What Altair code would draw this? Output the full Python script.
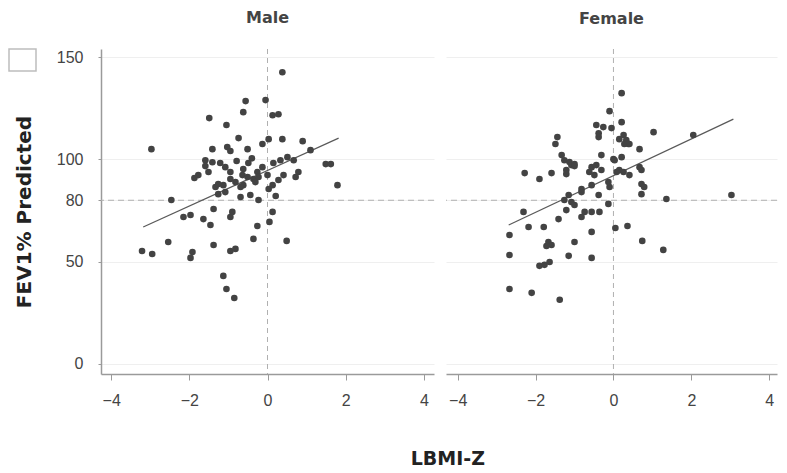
import altair as alt
import pandas as pd

# ---- data ----
male_x = [0.38, -0.56, -0.05, -0.62, 0.13, 0.28, -1.49, -1.05, -2.97, -0.74,
          0.38, 0.03, 0.90, -0.13, -0.51, -1.41, -1.03, -0.95, 1.10, -1.59,
          -1.41, -1.21, -0.79, -0.49, -0.40, 0.15, 0.33, 0.51, 0.67, 1.49,
          1.62, -0.62, -0.26, 0.00, 0.41, 0.79, -0.36, 0.28, -1.51, -1.77,
          -0.95, -0.64, -1.87, -1.13, -0.95, -1.26, -0.69, -2.46, -2.15, -1.97,
          -1.64, -1.46, -1.38, -0.95, -0.90, -2.54, -3.21, -2.95, -1.92, -1.97,
          -1.38, -0.95, -0.82, -1.13, -1.05, -0.85, -0.51, -0.23, 0.72, 1.79,
          -0.62, -0.31, 0.03, 0.13, -0.44, -0.23, 0.21, 0.13, 0.05, -0.26,
          -0.36, 0.49, -1.59, -1.08, -0.82, -1.33, -1.08, -0.13, -0.69, -1.26]
male_y = [142.6, 128.5, 129.0, 123.1, 121.6, 122.1, 120.2, 116.8, 105.0, 110.4,
          109.9, 109.9, 108.9, 107.5, 105.0, 105.0, 106.0, 104.1, 104.5, 99.6,
          98.6, 98.2, 99.2, 98.2, 100.5, 98.2, 99.6, 101.1, 99.6, 97.7,
          97.7, 95.3, 93.8, 92.3, 92.3, 93.8, 90.4, 89.9, 93.8, 92.3,
          93.8, 92.3, 90.9, 87.4, 90.4, 83.0, 81.6, 80.1, 71.8, 72.8,
          70.8, 67.9, 75.7, 71.8, 74.3, 59.6, 55.2, 53.7, 54.7, 51.8,
          58.1, 55.2, 56.2, 43.0, 36.6, 32.2, 91.4, 91.4, 91.4, 87.4,
          87.4, 88.9, 85.5, 87.4, 82.6, 80.1, 82.1, 74.3, 69.4, 67.4,
          61.1, 60.1, 96.7, 96.2, 88.9, 86.5, 84.0, 96.2, 86.5, 87.9]

female_x = [0.21, -0.10, -0.44, -0.26, -0.05, 0.21, -0.38, 0.26, 0.33, 0.38,
            1.03, 2.05, -1.44, -1.49, 0.67, -1.33, -1.26, -1.08, -1.00, -2.28,
            -1.90, -1.59, -1.21, -0.31, 0.00, 0.21, -0.56, -0.44, -0.31, -0.49,
            -0.62, 0.15, 0.26, 0.41, 0.67, 0.72, 0.79, 0.72, 1.36, 3.03,
            -0.10, -0.56, -0.38, -1.26, -1.08, -1.00, -0.82, -1.15, -0.13, -0.74,
            -0.56, -0.36, -0.82, -2.31, -1.41, -2.67, -2.18, -1.79, -1.21, -0.56,
            -1.00, -1.67, -1.59, -1.72, -2.67, -1.15, -0.56, -1.90, -1.77, -1.64,
            -2.67, -2.10, -1.38, 0.05, 0.36, 0.74, 1.28, -0.38, -1.13, -1.00,
            -1.21, -0.13, 0.08, -0.82, 0.15, 0.28, 0.41, 0.03, 0.72]
female_y = [132.4, 123.6, 116.8, 115.8, 115.3, 118.2, 110.9, 111.9, 109.4, 107.5,
            113.3, 111.9, 110.9, 107.5, 105.0, 102.1, 99.6, 97.2, 96.7, 93.3,
            90.4, 93.3, 92.8, 102.1, 100.1, 101.1, 96.2, 97.2, 94.8, 92.3,
            93.8, 94.8, 93.8, 92.3, 96.2, 87.9, 86.5, 83.0, 80.6, 82.6,
            86.5, 87.4, 82.6, 80.1, 79.1, 77.7, 84.0, 82.6, 78.2, 74.3,
            74.3, 74.3, 71.8, 74.3, 70.8, 63.0, 66.9, 66.9, 75.2, 64.5,
            59.6, 59.6, 58.1, 57.6, 53.2, 52.8, 51.8, 47.9, 48.4, 49.8,
            36.6, 34.7, 31.3, 66.4, 67.4, 60.1, 55.7, 112.8, 98.7, 97.7,
            94.8, 88.9, 93.8, 85.5, 109.9, 107.5, 107.5, 99.6, 94.8]

# fitted regression lines (end points)
male_line_x = [-3.18, 1.82]
male_line_y = [66.9, 110.4]
female_line_x = [-2.69, 3.08]
female_line_y = [67.9, 119.7]

ref_x = [0]
ref_y = [80]
x_ticks = [-4, -2, 0, 2, 4]
y_ticks = [0, 50, 80, 100, 150]
panels = ["Male", "Female"]

Y_DOMAIN = [-5, 154]
LABEL_FONT = "Liberation Sans"
TITLE_FONT = "DejaVu Sans"


def panel(xs, ys, lx, ly, name, show_y, width, xdom):
    df = pd.DataFrame({"x": xs, "y": ys})
    ldf = pd.DataFrame({"x": lx, "y": ly})
    xscale = alt.Scale(domain=xdom, nice=False, zero=False)
    yscale = alt.Scale(domain=Y_DOMAIN, nice=False, zero=False)
    xaxis = alt.Axis(values=x_ticks, title=None, grid=False, domainColor="#9a9a9a",
                     domainWidth=1.5, tickColor="#9a9a9a", tickSize=6, labelFontSize=16,
                     labelFont=LABEL_FONT, labelColor="#444", labelPadding=12)
    if show_y:
        yaxis = alt.Axis(values=y_ticks, title="FEV1% Predicted", grid=True, gridColor="#efefef",
                         domainColor="#9a9a9a", domainWidth=1.5, tickColor="#9a9a9a", tickSize=3,
                         labelFontSize=16, labelFont=LABEL_FONT, labelColor="#444",
                         labelPadding=15, titleFont=TITLE_FONT, titleFontSize=20,
                         titleFontWeight="bold", titleColor="#222", titlePadding=22)
    else:
        yaxis = alt.Axis(values=y_ticks, title=None, grid=True, gridColor="#efefef",
                         labels=False, ticks=False, domain=False)

    points = alt.Chart(df).mark_circle(size=44, color="#434343", opacity=1).encode(
        x=alt.X("x:Q", scale=xscale, axis=xaxis),
        y=alt.Y("y:Q", scale=yscale, axis=yaxis),
    )
    line = alt.Chart(ldf).mark_line(color="#595959", strokeWidth=1.2).encode(
        x=alt.X("x:Q", scale=xscale), y=alt.Y("y:Q", scale=yscale))
    vrule = alt.Chart(pd.DataFrame({"x": ref_x})).mark_rule(
        color="#b0b0b0", strokeDash=[5, 4], strokeWidth=1).encode(x=alt.X("x:Q", scale=xscale))
    hrule = alt.Chart(pd.DataFrame({"y": ref_y})).mark_rule(
        color="#b0b0b0", strokeDash=[6, 4], strokeWidth=1).encode(y=alt.Y("y:Q", scale=yscale))
    layers = [hrule, vrule, line, points]
    if show_y:
        box = alt.Chart(pd.DataFrame({"a": [0]})).mark_rect(
            fill="white", stroke="#bdbdbd", strokeWidth=1.5).encode(
            x=alt.value(-92), x2=alt.value(-65), y=alt.value(0), y2=alt.value(22))
        layers.append(box)
    return alt.layer(*layers).properties(
        width=width, height=325,
        title=alt.TitleParams(name, anchor="middle", frame="group", font=TITLE_FONT,
                              fontSize=16, fontWeight="bold", color="#444", offset=22),
    )


left = panel(male_x, male_y, male_line_x, male_line_y, panels[0], True, 333, [-4.26, 4.26])
right = panel(female_x, female_y, female_line_x, female_line_y, panels[1], False, 331, [-4.3, 4.2])

chart = alt.hconcat(left, right, spacing=10).properties(
    padding={"top": 2, "left": 0, "right": 0, "bottom": 0},
    title=alt.TitleParams("LBMI-Z", orient="bottom", anchor="middle", font=TITLE_FONT,
                          fontSize=19, fontWeight="bold", color="#222", offset=42, dx=55)
).configure(background="white").configure_view(strokeWidth=0, stroke="transparent")

chart.save("out.html", embed_options={"renderer": "svg", "actions": False})
